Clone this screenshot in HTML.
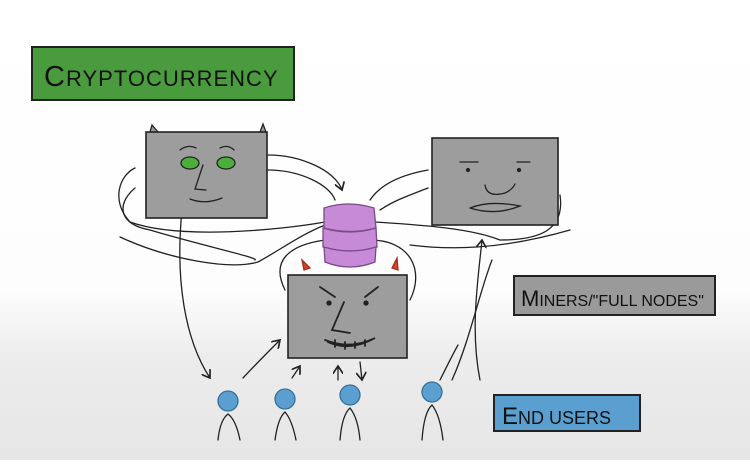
<!DOCTYPE html>
<html><head><style>
html,body{margin:0;padding:0}
body{width:750px;height:460px;overflow:hidden;background:linear-gradient(#ffffff 0,#fdfdfd 290px,#ececec 360px,#e6e6e6 460px)}
text{font-family:"Liberation Sans",sans-serif}
</style></head><body>
<svg width="750" height="460" viewBox="0 0 750 460" xmlns="http://www.w3.org/2000/svg" fill="none" stroke="#222" stroke-width="1.3" stroke-linecap="round">
<defs><marker id="a" markerWidth="8" markerHeight="8" refX="6" refY="4" orient="auto"><path d="M0,0 L6,4 L0,8" stroke="#222" fill="none"/></marker></defs>
<rect x="32" y="47" width="262" height="53" fill="#4a9a3e" stroke="#222" stroke-width="2"/>
<text x="44" y="86" font-size="29" fill="#111" stroke="none" letter-spacing="1">C<tspan font-size="22">RYPTOCURRENCY</tspan></text>
<rect x="514" y="276" width="201" height="39" fill="#9a9a9a" stroke="#222" stroke-width="2"/>
<text x="521" y="306" font-size="22" fill="#111" stroke="none">M<tspan font-size="16">INERS/"FULL NODES"</tspan></text>
<rect x="494" y="395" width="146" height="36" fill="#5a9fd0" stroke="#222" stroke-width="2"/>
<text x="502" y="424" font-size="24" fill="#111" stroke="none">E<tspan font-size="18">ND USERS</tspan></text>
<path d="M135 168 C120 175 110 200 130 222 C180 240 280 230 325 222"/>
<path d="M135 188 C115 205 120 225 150 230 C200 245 260 258 255 260"/>
<path d="M120 237 C170 260 230 270 258 262 C280 250 300 235 325 225"/>
<path d="M268 155 C300 155 335 170 342 190" marker-end="url(#a)"/>
<path d="M268 170 C300 170 330 185 335 200"/>
<path d="M370 200 C380 185 400 175 428 170"/>
<path d="M380 210 C395 200 410 195 428 188"/>
<path d="M375 222 C420 225 470 228 500 240 C540 240 565 230 560 195"/>
<path d="M410 245 C450 250 500 250 570 230"/>
<path d="M325 240 C290 245 270 260 285 290"/>
<path d="M370 240 C410 240 425 270 410 300"/>
<path d="M182 210 C175 280 185 340 210 378" marker-end="url(#a)"/>
<path d="M243 378 C255 365 270 350 280 340" marker-end="url(#a)"/>
<path d="M480 380 C470 330 478 280 482 240" marker-end="url(#a)"/>
<path d="M452 380 C470 340 480 290 492 260"/>
<path d="M440 380 C450 360 455 350 458 345"/>
<path d="M292 378 L300 366" marker-end="url(#a)"/>
<path d="M338 380 L338 366" marker-end="url(#a)"/>
<path d="M360 362 L362 380" marker-end="url(#a)"/>
<path d="M150 132 L152 125 L158 132 M260 132 L263 124 L266 132" fill="#999"/>
<rect x="146" y="132" width="121" height="86" fill="#9d9d9d" stroke="#222" stroke-width="1.6"/>
<ellipse cx="190" cy="163" rx="9" ry="6" fill="#4caf3c"/><ellipse cx="226" cy="163" rx="9" ry="6" fill="#4caf3c"/>
<path d="M180 150 Q188 144 196 148 M220 148 Q228 144 234 150 M203 165 L195 189 L206 190 M190 199 Q205 205 222 198"/>
<rect x="432" y="138" width="126" height="87" fill="#9d9d9d" stroke="#222" stroke-width="1.6"/>
<path d="M460 162 L478 162 M517 162 L530 162 M485 185 Q487 198 505 193 Q512 190 515 184 M470 208 Q490 200 520 206 Q495 216 470 208"/>
<circle cx="468" cy="170" r="1.5" fill="#222"/><circle cx="519" cy="170" r="1.5" fill="#222"/>
<path d="M304 270 L302 260 L310 268 Z M392 268 L397 258 L398 270 Z" fill="#d0462a" stroke="#a03020"/>
<rect x="288" y="275" width="119" height="83" fill="#9d9d9d" stroke="#222" stroke-width="1.6"/>
<path d="M320 287 L335 297 M365 297 L378 287 M344 302 L332 330 L350 333 M325 340 Q350 350 375 338 Q350 352 328 342 M335 340 L335 347 M345 342 L345 349 M355 342 L355 348 M365 340 L365 346" stroke-width="1.8"/>
<circle cx="329" cy="303" r="2" fill="#222"/><circle cx="366" cy="303" r="2" fill="#222"/>
<path d="M324 208 Q348 200 374 208 L376 228 Q350 235 324 228 Z" fill="#c68ad6" stroke="#7a4a88"/>
<path d="M323 228 Q350 236 376 228 L377 247 Q350 255 323 247 Z" fill="#c68ad6" stroke="#7a4a88"/>
<path d="M324 247 Q350 255 376 247 L375 262 Q350 272 325 262 Z" fill="#c68ad6" stroke="#7a4a88"/>
<g fill="#5a9fd0" stroke="#3a6f98"><circle cx="228" cy="401" r="10"/><circle cx="285" cy="399" r="10"/><circle cx="350" cy="395" r="10"/><circle cx="432" cy="392" r="10"/></g>
<path d="M218 440 Q220 420 228 414 Q236 420 240 440 M275 440 Q278 418 285 412 Q292 420 296 440 M340 440 Q342 415 350 408 Q358 418 360 440 M422 440 Q424 412 432 405 Q440 415 443 440"/>
</svg>
</body></html>
